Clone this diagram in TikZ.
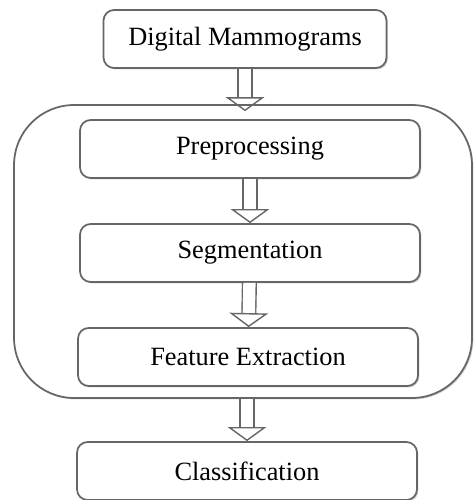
\documentclass[tikz,border=0pt]{standalone}
\usepackage{fontspec}
\setmainfont{Liberation Serif}
\usetikzlibrary{arrows.meta, shadows}

\begin{document}
\begin{tikzpicture}[x=0.02cm, y=-0.02cm,
		stage/.style={draw=black!60, fill=white, line width=1pt, rounded corners=6pt,
			drop shadow={shadow xshift=0.8pt, shadow yshift=-0.8pt, opacity=0.35},
			minimum width=6.8cm, minimum height=1.16cm, font=\fontsize{15}{18}\selectfont},
		hollow/.style={draw=black!60, line width=0.8pt, double, double distance=7pt,
			-{Triangle[open, width=22pt, length=8pt, line width=0.8pt]}}]
		\useasboundingbox (0,0) rectangle (475,500);
		% outer frame round the processing steps
		\node [draw=black!60, fill=white, line width=1pt, rounded corners=1.2cm,
			drop shadow={shadow xshift=0.8pt, shadow yshift=-0.8pt, opacity=0.35},
			minimum width=9.16cm, minimum height=5.86cm] (frame) at (243,251.5) {};
		\node [stage, minimum width=5.66cm] (input) at (245,39) {Digital Mammograms};
		\node [stage] (pre) at (250,149) {Preprocessing};
		\node [stage] (seg) at (250,253) {Segmentation};
		\node [stage] (feat) at (248,357) {Feature Extraction};
		\node [stage] (cls) at (247,471) {Classification};
		\draw [hollow, shorten >=-4pt] (input) -- (input |- frame.north);
		\draw [hollow] (pre) -- (seg);
		\draw [hollow] (seg) -- (feat);
		\draw [hollow] (frame.south -| cls) -- (cls);
	\end{tikzpicture}
\end{document}
